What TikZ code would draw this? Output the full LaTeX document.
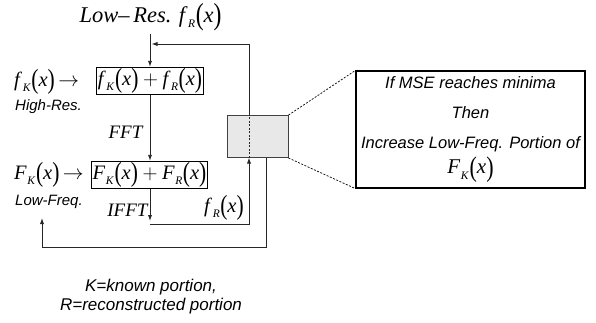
\documentclass[tikz,border=0pt]{standalone}
\usepackage{fontspec}
\setmainfont{Liberation Serif}
\setsansfont{Liberation Sans}
\usetikzlibrary{arrows.meta,calc}
\newcommand\tpar[1]{\raisebox{-0.1em}{\scalebox{1.05}[1.35]{#1}}}
\newcommand\fx[2]{\textit{#1}\kern0.5pt\raisebox{-0.25em}{\fontsize{11.5}{11.5}\selectfont\textit{#2}}\kern0.5pt\tpar{(}\textit{x}\tpar{)}}
\tikzset{
  x=1pt, y=-1pt,
  conn/.style={line width=0.9pt, draw=black!85},
  arr/.style={conn, -{Latex[length=6pt,width=4.2pt]}},
  fbox/.style={draw, line width=1.3pt, inner sep=1pt, minimum height=26pt, minimum width=107pt,
    font=\fontsize{20.5}{22}\selectfont},
  serif/.style={font=\fontsize{20.5}{22}\selectfont, inner sep=0pt},
  slabel/.style={font=\sffamily\itshape\fontsize{15}{17}\selectfont, inner sep=0pt},
  greybox/.style={draw=black!75, fill=black!9, line width=1pt, minimum width=61pt, minimum height=42pt, inner sep=0pt},
  rbox/.style={draw, line width=1.2pt, minimum width=229pt, minimum height=117pt, inner sep=0pt, align=center,
    font=\sffamily\itshape\fontsize{16.5}{30}\selectfont},
  dashc/.style={line width=0.7pt, dash pattern=on 2pt off 1.5pt}
}
\begin{document}
\begin{tikzpicture}
\useasboundingbox (0,0) rectangle (596,322);
% nodes
\node[serif, font=\fontsize{22.5}{24}\selectfont] (title) at (150.5,17) {\textit{Low–\,Res.} \fx fR};
\node[fbox] (b1) at (150,81) {\fx fK${}+{}$\fx fR};
\node[fbox] (b2) at (149.5,175) {\fx FK${}+{}$\fx FR};
\node[serif, anchor=west] (fk) at (14,82) {\fx fK\,$\rightarrow$};
\node[serif, anchor=west] (Fk) at (14,175) {\fx FK\,$\rightarrow$};
\node[slabel, anchor=west] (hr) at (15,107) {High-Res.};
\node[slabel, anchor=west] (lf) at (15,202) {Low-Freq.};
\node[serif, font=\fontsize{19}{21}\selectfont] (fft) at (126,132) {\textit{FFT}};
\node[serif, font=\fontsize{19}{21}\selectfont] (ifft) at (128,210) {\textit{IFFT}};
\node[serif] (fr) at (224,208) {\fx fR};
\node[greybox] (g) at (257.5,136.5) {};
\node[rbox] (rb) at (470.5,129.5) {If MSE reaches minima\\ Then\\ Increase Low-Freq. Portion of\\[-5pt] {\rmfamily\upshape\fontsize{21}{22}\selectfont\fx FK}};
\node[slabel, align=center, font=\sffamily\itshape\fontsize{17}{19}\selectfont] (note) at (151,297) {K=known portion,\\R=reconstructed portion};
% coordinates
\coordinate (gtop) at (249,115.5);
\coordinate (gbot) at (249,157.5);
\coordinate (g2) at (266.5,157.5);
\coordinate (j1) at (151.5,44);
\coordinate (j2) at (150,221);
\coordinate (j3) at (150,224);
\coordinate (lfa) at (42,218);
\coordinate (low) at (0,247);
% connectors
\draw[arr] (b1.north |- title.south) ++(0,3) -- (b1.north);
\draw[arr] (gtop) |- (j1);
\draw[arr] (b1.south) -- (b2.north -| b1.south);
\draw[arr] (b2.south -| j2) -- (j2);
\draw[arr] (j3) -| (gbot);
\draw[conn, dashed, dash pattern=on 2pt off 1.5pt, line width=0.6pt] (gbot) -- (gtop);
\draw[arr] (g2) -- (g2 |- low) -| (lfa);
\draw[dashc] (g.north east) -- (rb.north west);
\draw[dashc] (g.south east) -- (rb.south west);
\end{tikzpicture}
\end{document}
